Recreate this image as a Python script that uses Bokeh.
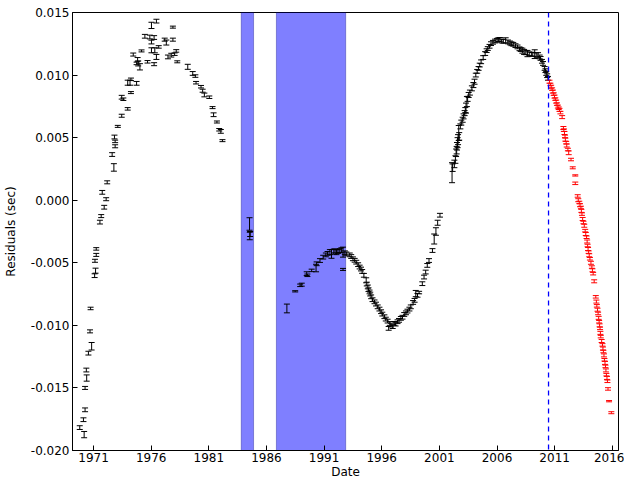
from bokeh.plotting import figure
from bokeh.models import (ColumnDataSource, Whisker, TeeHead, BoxAnnotation, Span,
                          FixedTicker, PrintfTickFormatter)
from bokeh.embed import file_html
from bokeh.resources import INLINE

# ---------------- data ----------------
x_ticks = [1971, 1976, 1981, 1986, 1991, 1996, 2001, 2006, 2011, 2016]
y_ticks = [-0.020, -0.015, -0.010, -0.005, 0.000, 0.005, 0.010, 0.015]

gap_spans = [(1983.81, 1984.88), (1986.86, 1992.87)]
split_year = 2010.47

# pre-2010.5 timing residuals (black)
year_black = [
    1969.80, 1970.12, 1970.18, 1970.26, 1970.26, 1970.37, 1970.40, 1970.55, 1970.69, 1970.74,
    1970.83, 1971.09, 1971.12, 1971.17, 1971.23, 1971.23, 1971.55, 1971.66, 1971.75, 1971.92,
    1972.09, 1972.18, 1972.61, 1972.76, 1972.81, 1972.87, 1972.87, 1973.10, 1973.44, 1973.44,
    1973.58, 1973.96, 1973.96, 1974.16, 1974.24, 1974.24, 1974.44, 1974.73, 1974.73, 1974.82,
    1974.87, 1975.02, 1975.16, 1975.45, 1975.68, 1975.88, 1976.02, 1976.02, 1976.02, 1976.25,
    1976.25, 1976.31, 1976.45, 1976.45, 1976.65, 1977.17, 1977.31, 1977.45, 1977.74, 1977.88,
    1977.88, 1978.03, 1978.17, 1978.26, 1979.17, 1979.60, 1979.83, 1979.89, 1980.32, 1980.46,
    1980.61, 1981.04, 1981.32, 1981.41, 1981.70, 1981.90, 1982.04, 1982.18,
    1984.53, 1984.55, 1984.58,
    1987.77, 1988.49, 1988.92, 1989.06, 1989.49, 1989.55, 1989.92, 1990.30, 1990.35, 1990.64,
    1990.92, 1991.15, 1991.30, 1991.50, 1991.64, 1991.84, 1991.95, 1992.07, 1992.20, 1992.36,
    1992.50, 1992.64, 1992.64, 1992.80, 1992.93, 1993.22, 1993.35, 1993.50, 1993.65, 1993.79,
    1993.95, 1994.08, 1994.20, 1994.30, 1994.45, 1994.65, 1994.70, 1994.79, 1994.85, 1994.94,
    1995.00, 1995.08, 1995.20, 1995.37, 1995.50, 1995.65, 1995.80, 1995.94, 1996.05, 1996.23,
    1996.35, 1996.51, 1996.60, 1996.70, 1996.80, 1996.95, 1997.09, 1997.20, 1997.37, 1997.50,
    1997.66, 1997.80, 1997.95, 1998.10, 1998.23, 1998.40, 1998.52, 1998.72, 1998.85, 1998.95,
    1999.10, 1999.24, 1999.52, 1999.67, 1999.81, 1999.95, 2000.10, 2000.40, 2000.55, 2000.70,
    2000.85, 2001.05,
    2002.10, 2002.15, 2002.30, 2002.39, 2002.45, 2002.50, 2002.53, 2002.58, 2002.62, 2002.68,
    2002.72, 2002.82, 2002.90, 2003.02, 2003.10, 2003.19, 2003.25, 2003.31, 2003.39, 2003.45,
    2003.54, 2003.65, 2003.82, 2003.95, 2004.05, 2004.16, 2004.28, 2004.40, 2004.50, 2004.62,
    2004.80, 2004.97, 2005.10, 2005.20, 2005.35, 2005.48, 2005.65, 2005.83, 2006.00, 2006.12,
    2006.25, 2006.40, 2006.55, 2006.75, 2006.95, 2007.12, 2007.25, 2007.41, 2007.60, 2007.78,
    2007.95, 2008.06, 2008.20, 2008.35, 2008.50, 2008.64, 2008.80, 2008.98, 2009.10, 2009.27,
    2009.40, 2009.56, 2009.70, 2009.78, 2009.90, 2009.99, 2010.13, 2010.20, 2010.27, 2010.35,
    2010.42,
]
resid_black = [
    -0.01817, -0.01754, -0.01873, -0.01675, -0.01500, -0.01357, -0.01421, -0.01222, -0.01048, -0.00865,
    -0.01167, -0.00603, -0.00484, -0.00563, -0.00437, -0.00389, -0.00175, -0.00127, 0.00063, -0.00056,
    0.00008, 0.00143, 0.00365, 0.00262, 0.00505, 0.00431, 0.00470, 0.00590, 0.00675, 0.00823,
    0.00807, 0.00730, 0.00939, 0.00939, 0.00966, 0.00860, 0.01164, 0.00934, 0.01093, 0.01125,
    0.01093, 0.01066, 0.01193, 0.01310, 0.01106, 0.01304, 0.01198, 0.01264, 0.01397, 0.01087,
    0.01300, 0.01198, 0.01145, 0.01431, 0.01225, 0.01283, 0.01260, 0.01145, 0.01159, 0.01283,
    0.01383, 0.01167, 0.01193, 0.01106, 0.01066, 0.01013, 0.00992, 0.00939, 0.00907, 0.00875,
    0.00841, 0.00823, 0.00740, 0.00683, 0.00625, 0.00563, 0.00550, 0.00476,
    -0.00190, -0.00286, -0.00270,
    -0.00865, -0.00728, -0.00680, -0.00675, -0.00587, -0.00600, -0.00561, -0.00542, -0.00508, -0.00482,
    -0.00455, -0.00437, -0.00425, -0.00415, -0.00429, -0.00410, -0.00405, -0.00415, -0.00410, -0.00402,
    -0.00400, -0.00415, -0.00553, -0.00420, -0.00429, -0.00437, -0.00450, -0.00468, -0.00480, -0.00495,
    -0.00515, -0.00534, -0.00550, -0.00569, -0.00600, -0.00640, -0.00670, -0.00693, -0.00715, -0.00733,
    -0.00750, -0.00772, -0.00795, -0.00812, -0.00830, -0.00852, -0.00870, -0.00891, -0.00910, -0.00931,
    -0.00950, -0.00966, -0.01024, -0.00985, -0.00998, -0.01010, -0.00984, -0.00990, -0.00971, -0.00960,
    -0.00944, -0.00935, -0.00913, -0.00900, -0.00886, -0.00870, -0.00852, -0.00817, -0.00800, -0.00746,
    -0.00760, -0.00738, -0.00667, -0.00614, -0.00574, -0.00521, -0.00482, -0.00402, -0.00310, -0.00250,
    -0.00180, -0.00120,
    0.00220, 0.00260, 0.00290, 0.00325, 0.00379, 0.00400, 0.00431, 0.00460, 0.00484, 0.00537,
    0.00510, 0.00590, 0.00620, 0.00643, 0.00670, 0.00696, 0.00720, 0.00736, 0.00788, 0.00810,
    0.00841, 0.00860, 0.00894, 0.00920, 0.00947, 0.01000, 0.01030, 0.01053, 0.01080, 0.01106,
    0.01140, 0.01172, 0.01195, 0.01212, 0.01230, 0.01251, 0.01262, 0.01272, 0.01278, 0.01283,
    0.01285, 0.01272, 0.01270, 0.01278, 0.01265, 0.01257, 0.01250, 0.01246, 0.01235, 0.01225,
    0.01210, 0.01204, 0.01195, 0.01185, 0.01178, 0.01172, 0.01170, 0.01167, 0.01165, 0.01167,
    0.01162, 0.01159, 0.01145, 0.01133, 0.01110, 0.01093, 0.01053, 0.01035, 0.01013, 0.00995,
    0.00974,
]
err_black = [
    0.00015, 0.00015, 0.00025, 0.00015, 0.00012, 0.00015, 0.00025, 0.00015, 0.00012, 0.00010,
    0.00030, 0.00015, 0.00012, 0.00020, 0.00012, 0.00010, 0.00015, 0.00012, 0.00015, 0.00015,
    0.00012, 0.00012, 0.00015, 0.00030, 0.00015, 0.00012, 0.00010, 0.00008, 0.00012, 0.00015,
    0.00010, 0.00010, 0.00020, 0.00020, 0.00010, 0.00008, 0.00012, 0.00015, 0.00010, 0.00015,
    0.00020, 0.00025, 0.00008, 0.00015, 0.00010, 0.00015, 0.00020, 0.00015, 0.00025, 0.00012,
    0.00015, 0.00020, 0.00020, 0.00015, 0.00010, 0.00012, 0.00020, 0.00015, 0.00015, 0.00012,
    0.00008, 0.00010, 0.00010, 0.00008, 0.00020, 0.00015, 0.00010, 0.00010, 0.00010, 0.00012,
    0.00015, 0.00010, 0.00008, 0.00015, 0.00008, 0.00010, 0.00015, 0.00008,
    0.00050, 0.00030, 0.00020,
    0.00035, 0.00005, 0.00010, 0.00012, 0.00015, 0.00010, 0.00010, 0.00030, 0.00015, 0.00015,
    0.00015, 0.00015, 0.00015, 0.00020, 0.00035, 0.00020, 0.00015, 0.00020, 0.00015, 0.00015,
    0.00020, 0.00040, 0.00008, 0.00015, 0.00015, 0.00015, 0.00015, 0.00015, 0.00015, 0.00015,
    0.00015, 0.00015, 0.00015, 0.00015, 0.00015, 0.00020, 0.00015, 0.00015, 0.00015, 0.00015,
    0.00015, 0.00015, 0.00015, 0.00015, 0.00015, 0.00015, 0.00015, 0.00015, 0.00015, 0.00015,
    0.00015, 0.00015, 0.00015, 0.00015, 0.00015, 0.00015, 0.00015, 0.00015, 0.00015, 0.00015,
    0.00015, 0.00015, 0.00015, 0.00015, 0.00015, 0.00015, 0.00015, 0.00015, 0.00015, 0.00025,
    0.00015, 0.00010, 0.00015, 0.00015, 0.00015, 0.00015, 0.00015, 0.00015, 0.00040, 0.00030,
    0.00020, 0.00015,
    0.00080, 0.00030, 0.00030, 0.00030, 0.00030, 0.00030, 0.00030, 0.00040, 0.00040, 0.00060,
    0.00030, 0.00020, 0.00020, 0.00020, 0.00020, 0.00020, 0.00020, 0.00040, 0.00040, 0.00020,
    0.00020, 0.00020, 0.00020, 0.00020, 0.00020, 0.00015, 0.00015, 0.00015, 0.00015, 0.00015,
    0.00015, 0.00015, 0.00015, 0.00015, 0.00015, 0.00015, 0.00015, 0.00015, 0.00015, 0.00015,
    0.00015, 0.00015, 0.00015, 0.00020, 0.00015, 0.00015, 0.00015, 0.00015, 0.00015, 0.00015,
    0.00015, 0.00015, 0.00020, 0.00020, 0.00015, 0.00025, 0.00015, 0.00015, 0.00015, 0.00035,
    0.00015, 0.00020, 0.00015, 0.00015, 0.00015, 0.00015, 0.00015, 0.00015, 0.00015, 0.00015,
    0.00015,
]

# post-2010.5 residuals (red)
year_red = [
    2010.55, 2010.63, 2010.70, 2010.78, 2010.85, 2010.92, 2010.99, 2011.06, 2011.13, 2011.20,
    2011.28, 2011.35, 2011.42, 2011.50, 2011.65, 2011.76, 2011.80, 2011.85, 2011.90, 2011.93,
    2012.00, 2012.05, 2012.15, 2012.22, 2012.42, 2012.57, 2012.79, 2012.79, 2013.00, 2013.05,
    2013.14, 2013.20, 2013.28, 2013.32, 2013.37, 2013.43, 2013.50, 2013.57, 2013.65, 2013.70,
    2013.77, 2013.82, 2013.86, 2013.90, 2013.95, 2014.00, 2014.06, 2014.15, 2014.23, 2014.28,
    2014.34, 2014.43, 2014.57, 2014.62, 2014.66, 2014.72, 2014.77, 2014.82, 2014.86, 2014.90,
    2014.94, 2014.97, 2015.00, 2015.08, 2015.15, 2015.19, 2015.23, 2015.28, 2015.32, 2015.37,
    2015.41, 2015.45, 2015.49, 2015.54, 2015.58, 2015.63, 2015.72, 2015.92,
]
resid_red = [
    0.00947, 0.00925, 0.00907, 0.00888, 0.00868, 0.00848, 0.00828, 0.00808, 0.00788, 0.00768,
    0.00748, 0.00735, 0.00722, 0.00700, 0.00664, 0.00577, 0.00560, 0.00537, 0.00510, 0.00484,
    0.00460, 0.00437, 0.00405, 0.00379, 0.00325, 0.00259, 0.00198, 0.00135, 0.00034, 0.00000,
    -0.00018, -0.00040, -0.00058, -0.00085, -0.00111, -0.00150, -0.00178, -0.00204, -0.00243, -0.00270,
    -0.00296, -0.00330, -0.00362, -0.00390, -0.00415, -0.00440, -0.00468, -0.00500, -0.00534, -0.00560,
    -0.00587, -0.00648, -0.00772, -0.00810, -0.00844, -0.00875, -0.00905, -0.00940, -0.00971, -0.01000,
    -0.01024, -0.01060, -0.01090, -0.01125, -0.01156, -0.01185, -0.01209, -0.01240, -0.01275, -0.01300,
    -0.01328, -0.01360, -0.01394, -0.01420, -0.01447, -0.01508, -0.01606, -0.01698,
]
err_red = [
    0.00012, 0.00010, 0.00012, 0.00010, 0.00012, 0.00010, 0.00012, 0.00010, 0.00012, 0.00010,
    0.00012, 0.00010, 0.00012, 0.00010, 0.00012, 0.00012, 0.00010, 0.00012, 0.00010, 0.00012,
    0.00010, 0.00012, 0.00010, 0.00015, 0.00010, 0.00008, 0.00005, 0.00010, 0.00010, 0.00012,
    0.00010, 0.00012, 0.00010, 0.00012, 0.00010, 0.00012, 0.00010, 0.00012, 0.00010, 0.00012,
    0.00010, 0.00012, 0.00010, 0.00012, 0.00010, 0.00012, 0.00010, 0.00012, 0.00010, 0.00012,
    0.00010, 0.00012, 0.00010, 0.00012, 0.00010, 0.00012, 0.00010, 0.00012, 0.00010, 0.00012,
    0.00010, 0.00012, 0.00010, 0.00012, 0.00010, 0.00012, 0.00010, 0.00012, 0.00010, 0.00012,
    0.00010, 0.00012, 0.00010, 0.00012, 0.00010, 0.00010, 0.00005, 0.00008,
]

# ---------------- figure ----------------
FONT = "DejaVu Sans"
p = figure(width=624, height=481, x_range=(1969.17, 2016.54), y_range=(-0.020, 0.015),
           output_backend="svg", toolbar_location=None,
           min_border_left=66, min_border_right=6, min_border_top=12, min_border_bottom=30)
p.background_fill_color = "white"
p.border_fill_color = "white"
p.grid.visible = False
p.outline_line_color = "black"
p.outline_line_width = 1

for lo, hi in gap_spans:
    p.add_layout(BoxAnnotation(left=lo, right=hi, fill_color="#0000ff", fill_alpha=0.5,
                               line_color="#000080", line_alpha=0.35, line_width=1,
                               level="underlay"))

p.add_layout(Span(location=split_year, dimension="height", line_color="blue",
                  line_alpha=1.0, line_width=1.3, line_dash="5 4", level="overlay"))

def add_errorbars(xs, ys, es, color):
    src = ColumnDataSource(dict(x=xs, y=ys,
                                lo=[y - e for y, e in zip(ys, es)],
                                hi=[y + e for y, e in zip(ys, es)]))
    w = Whisker(source=src, base="x", lower="lo", upper="hi", dimension="height",
                line_color=color, line_width=1,
                lower_head=TeeHead(size=6, line_color=color, line_width=1),
                upper_head=TeeHead(size=6, line_color=color, line_width=1))
    p.add_layout(w)
    p.scatter("x", "y", source=src, size=0.1, color=color, alpha=0)

add_errorbars(year_black, resid_black, err_black, "black")
add_errorbars(year_red, resid_red, err_red, "red")

p.xaxis.ticker = FixedTicker(ticks=x_ticks)
p.yaxis.ticker = FixedTicker(ticks=y_ticks)
p.xaxis.formatter = PrintfTickFormatter(format="%d")
p.yaxis.formatter = PrintfTickFormatter(format="%.3f")
p.xaxis.axis_label = "Date"
p.yaxis.axis_label = "Residuals (sec)"

for ax in list(p.xaxis) + list(p.yaxis):
    ax.major_tick_in = 5
    ax.major_tick_out = 0
    ax.minor_tick_in = 0
    ax.minor_tick_out = 0
    ax.axis_line_color = "black"
    ax.major_tick_line_color = "black"
    ax.major_label_text_font = FONT
    ax.major_label_text_font_size = "12px"
    ax.major_label_text_color = "black"
    ax.axis_label_text_font = FONT
    ax.axis_label_text_font_size = "12px"
    ax.axis_label_text_font_style = "normal"
    ax.axis_label_text_color = "black"
    ax.major_label_standoff = 3
    ax.axis_label_standoff = 2

p.yaxis.axis_label_standoff = 10
p.xaxis.major_label_standoff = 2
p.xaxis.axis_label_standoff = 0

open("out.html", "w").write(file_html(p, INLINE))
